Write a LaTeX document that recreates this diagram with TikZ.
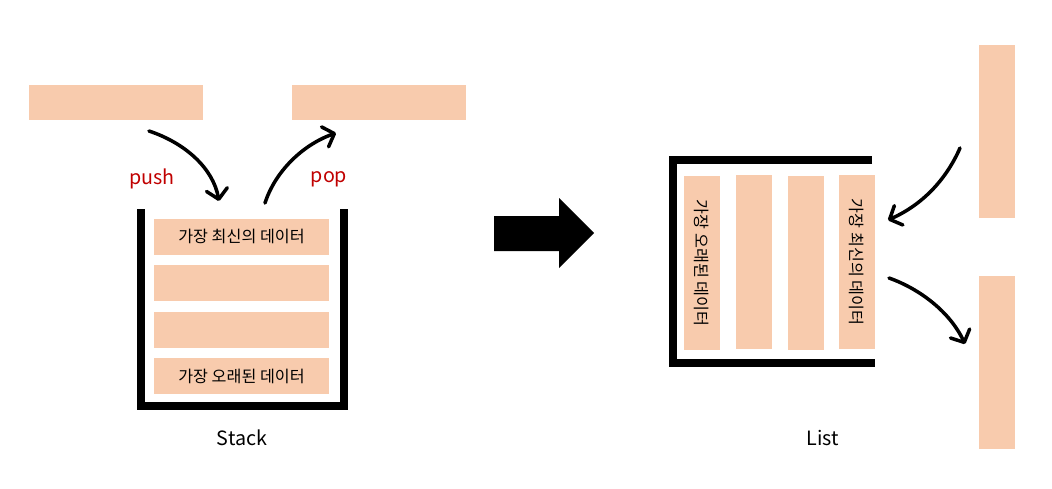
\documentclass[tikz,border=0pt]{standalone}
\usepackage{fontspec}
\setmainfont{Noto Sans CJK KR}
\usetikzlibrary{arrows.meta}
\definecolor{peach}{HTML}{F8CBAD}
\definecolor{popred}{HTML}{C00000}
\tikzset{
	cell/.style = {fill = peach, inner sep = 0, font = \fontsize{11.5}{12}\selectfont},
	hcell/.style = {cell, minimum width = 4.35cm, minimum height = .9cm},
	vcell/.style = {cell, minimum width = .9cm, minimum height = 4.35cm},
	wall/.style = {line width = 5pt, line cap = butt, line join = miter},
	curvedarrow/.style = {line width = 2.5pt, line cap = round, -{Straight Barb[length = 7pt, width = 15pt, round]}},
	caption/.style = {font = \fontsize{14}{16}\selectfont},
	opname/.style = {text = popred, font = \fontsize{14}{16}\selectfont}
}
\begin{document}
\begin{tikzpicture}[x = .025cm, y = -.025cm]
	\useasboundingbox (0, 0) rectangle (1052, 488);

	% stack side
	\node [hcell, minimum height = .875cm] (in) at (116, 102.5) {};
	\node [hcell, minimum height = .875cm] (out) at (379, 102.5) {};
	\draw [wall] (141, 209) -- (141, 406) -- (344, 406) -- (344, 209);
	\node [hcell] (s1) at (241.5, 236.5) {가장 최신의 데이터};
	\node [hcell] (s2) at (241.5, 283) {};
	\node [hcell] (s3) at (241.5, 329.5) {};
	\node [hcell] (s4) at (241.5, 376) {가장 오래된 데이터};
	\node [opname] (push) at (152, 179) {push};
	\node [opname] (pop) at (329, 179) {pop};
	\coordinate (pushA) at (149, 131);
	\coordinate (pushB) at (219, 201);
	\coordinate (popA) at (265, 203);
	\coordinate (popB) at (336, 133);
	\draw [curvedarrow] (pushA) .. controls (185, 143) and (213, 168) .. (pushB);
	\draw [curvedarrow] (popA) .. controls (275, 172) and (302, 145) .. (popB);
	\node [caption] (stack) at (242, 438) {Stack};

	% big arrow
	\fill (494, 216) -- (559, 216) -- (559, 198) -- (594, 233) -- (559, 268) -- (559, 251) -- (494, 251) -- cycle;

	% list side
	\draw [wall] (872, 160) -- (673, 160) -- (673, 363) -- (875, 363);
	\node [vcell] (l1) at (702, 263) {};
	\node [vcell] (l2) at (754, 262) {};
	\node [vcell] (l3) at (806, 263) {};
	\node [vcell] (l4) at (857, 262) {};
	\node [rotate = -90, font = \fontsize{11.5}{12}\selectfont] at (l1) {가장 오래된 데이터};
	\node [rotate = -90, font = \fontsize{11.5}{12}\selectfont] at (l4) {가장 최신의 데이터};
	\node [vcell, minimum height = 4.325cm] (top) at (997, 131.5) {};
	\node [vcell, minimum height = 4.325cm] (bottom) at (997, 362.5) {};
	\coordinate (addA) at (960, 148);
	\coordinate (addB) at (888, 220);
	\coordinate (takeA) at (889, 278);
	\coordinate (takeB) at (965, 344);
	\draw [curvedarrow] (addA) .. controls (946, 180) and (922, 205) .. (addB);
	\draw [curvedarrow] (takeA) .. controls (920, 289) and (950, 312) .. (takeB);
	\node [caption] (list) at (823, 438) {List};
\end{tikzpicture}
\end{document}
